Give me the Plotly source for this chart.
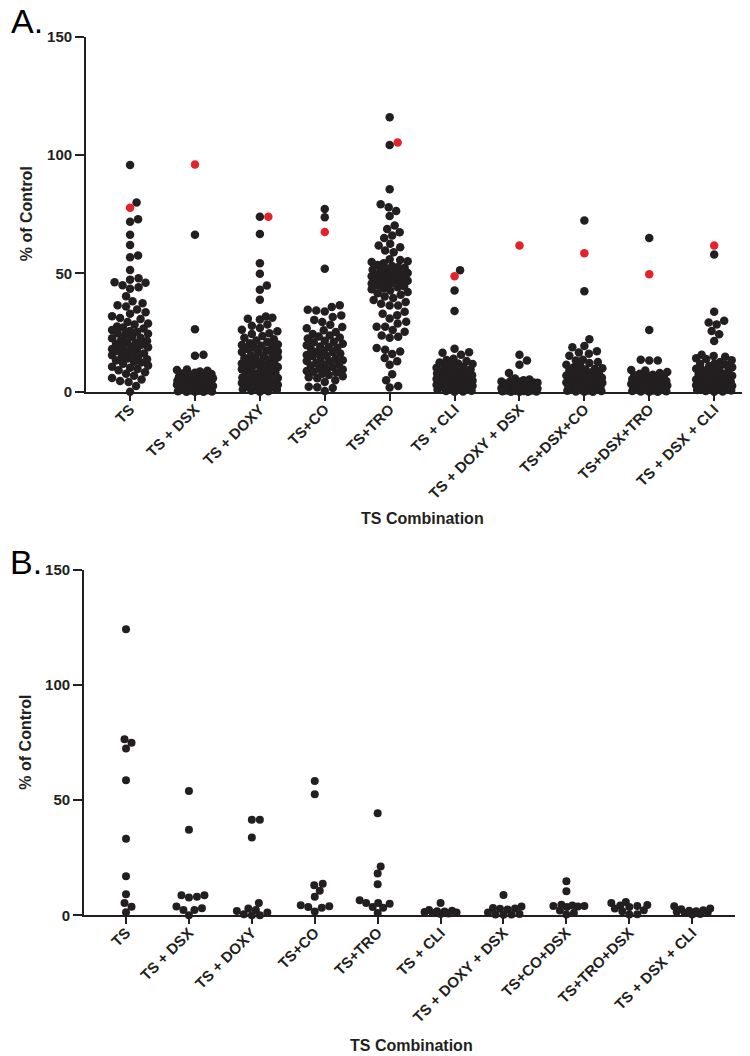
import plotly.graph_objects as go

# ---------------- data ----------------
CATS_A = ["TS", "TS + DSX", "TS + DOXY", "TS+CO", "TS+TRO", "TS + CLI",
          "TS + DOXY + DSX", "TS+DSX+CO", "TS+DSX+TRO", "TS + DSX + CLI"]
CATS_B = ["TS", "TS + DSX", "TS + DOXY", "TS+CO", "TS+TRO", "TS + CLI",
          "TS + DOXY + DSX", "TS+CO+DSX", "TS+TRO+DSX", "TS + DSX + CLI"]

# Panel A, black points per combination (% of control)
A_TS = [95.8, 80.0, 72.9, 71.8, 66.4, 62.0, 57.6, 56.8, 51.5, 48.0, 47.4, 46.3, 46.1, 45.0, 44.2,
        43.5, 40.4, 38.3, 37.4, 36.6, 36.0, 34.8, 33.6, 33.0, 31.9, 31.2, 30.8, 29.5, 28.9, 28.4,
        27.6, 27.2, 26.8, 26.1, 25.7, 25.4, 24.8, 24.5, 24.1, 23.3, 22.9, 22.6, 21.8, 21.5, 21.0,
        20.6, 20.3, 19.9, 19.4, 19.0, 18.8, 18.1, 17.7, 17.3, 16.9, 16.2, 15.9, 15.5, 15.0, 14.6,
        14.1, 13.8, 13.2, 12.7, 12.4, 11.9, 11.1, 10.6, 10.2, 9.7, 9.1, 8.3, 7.6, 6.8, 5.9, 5.2,
        4.6, 4.2, 2.5, 0.0]
A_TS_DSX = [66.4, 26.4, 15.7, 15.3, 9.4, 9.2, 8.9, 8.6, 8.1, 7.8, 7.5, 7.2, 7.0, 6.6, 6.3, 6.0,
            5.7, 5.5, 5.2, 4.9, 4.7, 4.4, 4.1, 3.9, 3.7, 3.4, 3.2, 2.9, 2.7, 2.5, 2.2, 2.0, 1.8,
            1.5, 1.3, 1.1, 0.9, 0.7, 0.5, 0.3, 0.1, 0.0, 0.0, 0.2, 0.6, 1.0, 1.6, 2.4, 3.0, 3.6,
            4.5, 5.4, 6.1, 7.3]
A_TS_DOXY = [74.0, 66.7, 54.3, 49.9, 44.9, 43.1, 38.9, 31.8, 31.3, 30.9, 30.6, 28.5, 27.9, 27.0,
             26.2, 25.6, 24.8, 24.4, 23.6, 22.9, 22.2, 21.7, 21.1, 20.5, 20.0, 19.5, 19.1, 18.6,
             18.1, 17.5, 17.0, 16.6, 16.1, 15.5, 15.0, 14.6, 14.1, 13.7, 13.2, 12.8, 12.3, 11.8,
             11.4, 10.9, 10.5, 10.0, 9.6, 9.1, 8.7, 8.2, 7.8, 7.3, 6.8, 6.4, 5.9, 5.5, 5.0, 4.6,
             4.1, 3.7, 3.2, 2.8, 2.3, 1.8, 1.4, 0.9, 0.5, 0.0, 0.3, 1.1, 2.0, 3.0, 4.4, 6.1, 8.0,
             10.2, 12.0, 14.3, 16.8, 19.8]
A_TS_CO = [77.2, 73.7, 52.0, 36.6, 35.8, 34.7, 34.4, 33.9, 32.3, 31.6, 30.4, 29.5, 28.3, 27.4,
           26.9, 26.0, 25.3, 24.4, 23.8, 23.0, 22.5, 21.6, 21.0, 20.3, 19.7, 19.2, 18.5, 17.9,
           17.3, 16.8, 16.2, 15.6, 15.1, 14.5, 13.9, 13.4, 12.8, 12.2, 11.7, 11.1, 10.5, 9.9,
           9.4, 8.8, 8.2, 7.6, 7.1, 6.6, 5.8, 4.9, 4.2, 2.2, 2.0, 1.6, 0.4, 13.0, 15.0, 17.0,
           19.0, 21.2, 23.4, 11.5, 9.6, 8.5, 6.2]
A_TS_TRO = [116.0, 104.3, 85.6, 79.2, 78.0, 76.4, 74.3, 70.3, 68.8, 67.4, 66.0, 65.0, 62.5, 61.8,
            61.1, 59.7, 59.0, 56.0, 55.7, 55.2, 54.8, 54.3, 53.6, 53.2, 52.7, 52.0, 51.6, 51.1,
            50.6, 50.2, 49.7, 49.3, 48.8, 48.4, 48.0, 47.7, 47.3, 46.9, 46.6, 46.2, 45.8, 45.5,
            45.1, 44.6, 44.2, 43.7, 43.3, 42.8, 42.2, 41.6, 41.0, 40.3, 39.6, 38.8, 38.0, 37.2,
            36.5, 36.5, 33.8, 33.0, 32.4, 31.0, 29.6, 28.9, 27.5, 27.5, 26.1, 25.4, 23.8, 23.3,
            22.9, 18.5, 17.8, 17.0, 16.0, 14.3, 12.9, 11.5, 7.4, 4.9, 2.5, 1.8, 47.0, 48.6, 50.9,
            52.4, 46.0, 49.0]
A_TS_CLI = [51.4, 42.8, 34.2, 18.2, 16.7, 16.5, 15.7, 14.0, 13.5, 13.0, 12.4, 12.0, 11.5, 11.1,
            10.6, 10.2, 9.8, 9.4, 9.0, 8.6, 8.2, 7.8, 7.5, 7.1, 6.8, 6.4, 6.1, 5.7, 5.4, 5.0, 4.7,
            4.4, 4.0, 3.7, 3.3, 3.0, 2.6, 2.3, 1.9, 1.6, 1.2, 0.9, 0.5, 0.2, 0.0, 1.0, 2.0, 3.5,
            5.2, 7.0, 9.2, 11.8, 0.4, 2.8]
A_TS_DOXY_DSX = [15.7, 13.2, 11.5, 8.0, 5.6, 5.2, 4.9, 4.6, 4.3, 4.0, 3.7, 3.5, 3.2, 3.0, 2.7,
                 2.5, 2.2, 2.0, 1.8, 1.6, 1.4, 1.2, 1.0, 0.8, 0.6, 0.4, 0.2, 0.0, 0.1, 0.3, 0.5,
                 0.7, 0.9, 1.1, 1.3, 1.5, 1.7, 2.1, 2.4, 2.9, 3.4, 3.9, 4.4, 0.0, 0.6, 1.2, 2.6]
A_TS_DSX_CO = [72.4, 42.5, 22.2, 19.4, 18.8, 17.2, 16.6, 16.1, 15.3, 13.6, 13.2, 12.2, 10.8, 10.4,
               10.0, 9.4, 8.9, 8.2, 7.8, 7.3, 6.9, 6.5, 6.0, 5.6, 5.1, 4.8, 4.4, 4.0, 3.6, 3.2,
               2.8, 2.4, 2.0, 1.6, 1.2, 0.8, 0.4, 0.0, 0.2, 0.6, 1.0, 1.4, 1.8, 2.2, 3.0, 3.8,
               4.6, 5.4, 6.3, 7.0, 8.6, 9.7, 11.4, 12.6, 0.1, 0.5]
A_TS_DSX_TRO = [65.0, 26.1, 13.6, 13.2, 13.2, 9.2, 9.0, 8.4, 7.7, 7.2, 6.8, 6.4, 6.0, 5.6, 5.2,
                4.8, 4.4, 4.0, 3.6, 3.3, 3.0, 2.7, 2.4, 2.1, 1.8, 1.5, 1.2, 0.9, 0.6, 0.3, 0.0,
                0.1, 0.4, 0.8, 1.1, 1.6, 2.0, 2.5, 3.1, 3.8, 4.6, 5.3, 6.2, 7.0, 8.0, 0.2, 1.3, 2.9]
A_TS_DSX_CLI = [58.0, 33.8, 30.0, 29.3, 28.5, 25.7, 24.3, 21.5, 15.7, 15.2, 14.8, 14.2, 13.9,
                13.4, 12.6, 12.0, 11.5, 10.9, 10.4, 9.8, 9.3, 8.8, 8.3, 7.8, 7.3, 6.8, 6.3, 5.9,
                5.4, 5.0, 4.5, 4.1, 3.7, 3.2, 2.8, 2.4, 2.0, 1.6, 1.2, 0.8, 0.4, 0.0, 0.2, 0.6,
                1.0, 1.4, 1.8, 2.6, 3.4, 4.3, 5.2, 6.0, 7.0, 8.5, 10.1, 11.9]
# Panel A, highlighted (red) point per combination
A_RED = [77.8, 96.0, 74.0, 67.5, 105.3, 48.8, 61.8, 58.5, 49.7, 61.8]

# Panel B points per combination
B_TS = [124.2, 76.5, 74.9, 72.5, 58.7, 33.3, 17.0, 9.1, 5.3, 3.7, 1.3]
B_TS_DSX = [54.0, 37.2, 8.7, 8.7, 8.1, 7.7, 3.8, 3.1, 2.3, 2.3, 0.0]
B_TS_DOXY = [41.5, 41.5, 33.8, 5.3, 3.0, 2.3, 1.9, 1.2, 0.5, 0.0, 0.0]
B_TS_CO = [58.3, 52.6, 13.7, 13.0, 10.7, 8.1, 4.4, 3.9, 3.6, 3.3, 1.7]
B_TS_TRO = [44.3, 21.2, 18.2, 13.5, 6.5, 5.3, 5.3, 5.0, 3.6, 3.3, 1.0]
B_TS_CLI = [5.3, 2.3, 2.0, 1.8, 1.6, 1.4, 1.2, 1.0, 0.8, 0.6]
B_TS_DOXY_DSX = [8.8, 3.8, 3.2, 3.0, 2.8, 2.5, 1.2, 0.6, 0.4, 0.3, 0.2]
B_TS_CO_DSX = [14.8, 10.4, 4.6, 4.3, 4.0, 4.0, 3.8, 3.6, 2.1, 1.0, 0.3]
B_TS_TRO_DSX = [5.8, 5.3, 4.5, 4.3, 4.0, 3.6, 3.0, 2.2, 1.8, 0.5, 0.3]
B_TS_DSX_CLI = [3.9, 3.0, 2.6, 2.2, 2.0, 1.8, 1.5, 1.2, 1.0, 0.6, 0.4]

A_GROUPS = [A_TS, A_TS_DSX, A_TS_DOXY, A_TS_CO, A_TS_TRO, A_TS_CLI,
            A_TS_DOXY_DSX, A_TS_DSX_CO, A_TS_DSX_TRO, A_TS_DSX_CLI]
B_GROUPS = [B_TS, B_TS_DSX, B_TS_DOXY, B_TS_CO, B_TS_TRO, B_TS_CLI,
            B_TS_DOXY_DSX, B_TS_CO_DSX, B_TS_TRO_DSX, B_TS_DSX_CLI]

# ---------------- layout constants ----------------
W, H = 750, 1056
FONT = "Arial, Liberation Sans, sans-serif"
BLACK = "#231f20"
RED = "#e3232b"

# panel A geometry (pixels)
A_X0, A_X1, A_Y0, A_Y1 = 78, 749, 381, 20
A_RANGE = [-0.679, 9.66]
# panel B geometry
B_X0, B_X1, B_Y0, B_Y1 = 76, 727, 913, 562
B_RANGE = [-0.668, 9.68]
YMAX = 150.0


def swarm(values, px_per_unit, px_per_cat, diam, max_off):
    """Beeswarm-style horizontal offsets (in category units) for one column."""
    order = sorted(range(len(values)), key=lambda i: values[i])
    step = 0.5
    cands = [0.0]
    for k in range(1, int(max_off / step) + 1):
        cands += [k * step, -k * step]
    placed = []
    offs = [0.0] * len(values)
    for i in order:
        y = values[i] * px_per_unit
        near = [(px, py) for px, py in placed if abs(py - y) < diam]
        chosen = None
        for c in cands:
            if all((c - px) ** 2 + (y - py) ** 2 >= diam * diam for px, py in near):
                chosen = c
                break
        if chosen is None:
            chosen = max(cands, key=lambda c: min((c - px) ** 2 + (y - py) ** 2 for px, py in near))
        placed.append((chosen, y))
        offs[i] = chosen / px_per_cat
    return offs


def build(groups, reds, x0, x1, y0, y1, rng, diam, max_off):
    ppu = (y0 - y1) / YMAX
    ppc = (x1 - x0) / (rng[1] - rng[0])
    bx, by, rx, ry = [], [], [], []
    for ci, vals in enumerate(groups):
        allv = list(vals)
        red_idx = None
        if reds is not None:
            allv.append(reds[ci])
            red_idx = len(allv) - 1
        offs = swarm(allv, ppu, ppc, diam, max_off)
        for j, v in enumerate(allv):
            if j == red_idx:
                rx.append(ci + offs[j]); ry.append(v)
            else:
                bx.append(ci + offs[j]); by.append(v)
    return bx, by, rx, ry


fig = go.Figure()

abx, aby, arx, ary = build(A_GROUPS, A_RED, A_X0, A_X1, A_Y0, A_Y1, A_RANGE, 8.2, 18)
bbx, bby, _, _ = build(B_GROUPS, None, B_X0, B_X1, B_Y0, B_Y1, B_RANGE, 7.6, 18)

fig.add_trace(go.Scatter(x=abx, y=aby, mode="markers", xaxis="x", yaxis="y", cliponaxis=False,
                         marker=dict(size=8.5, color=BLACK, line=dict(width=0)), showlegend=False))
fig.add_trace(go.Scatter(x=arx, y=ary, mode="markers", xaxis="x", yaxis="y", cliponaxis=False,
                         marker=dict(size=8.5, color=RED, line=dict(width=0)), showlegend=False))
fig.add_trace(go.Scatter(x=bbx, y=bby, mode="markers", xaxis="x2", yaxis="y2", cliponaxis=False,
                         marker=dict(size=8, color=BLACK, line=dict(width=0)), showlegend=False))


def xdom(a, b):
    return [a / W, b / W]


def ydom(bottom, top):
    return [1 - bottom / H, 1 - top / H]


axis_common = dict(showgrid=False, zeroline=False, showline=True, linecolor=BLACK, linewidth=1.8,
                   ticks="outside", tickcolor=BLACK, tickwidth=1.8, layer="below traces")
TICKFONT = dict(size=15, family=FONT, color=BLACK, weight="bold")

fig.update_layout(
    width=W, height=H, margin=dict(l=0, r=0, t=0, b=0),
    paper_bgcolor="white", plot_bgcolor="white",
    font=dict(family=FONT, color=BLACK),
    # panel letter "A." as the figure title (top-left corner)
    title=dict(text="A.", x=0, xref="container", xanchor="left", y=1, yref="container",
               yanchor="top", pad=dict(t=1, l=3), font=dict(size=34, family=FONT, color="black")),
    xaxis=dict(domain=xdom(A_X0, A_X1), range=A_RANGE, anchor="y",
               tickmode="array", tickvals=list(range(len(CATS_A))), ticktext=CATS_A,
               tickangle=-45, ticklen=7, tickfont=TICKFONT, ticklabelstandoff=-6, **axis_common),
    yaxis=dict(domain=ydom(A_Y0, A_Y1), range=[0, YMAX], anchor="x",
               tickmode="array", tickvals=[0, 50, 100, 150], ticklen=9,
               tickfont=TICKFONT, **axis_common),
    xaxis2=dict(domain=xdom(B_X0, B_X1), range=B_RANGE, anchor="y2",
                tickmode="array", tickvals=list(range(len(CATS_B))), ticktext=CATS_B,
                tickangle=-45, ticklen=7, tickfont=TICKFONT, ticklabelstandoff=-6, **axis_common),
    yaxis2=dict(domain=ydom(B_Y0, B_Y1), range=[0, YMAX], anchor="x2",
                tickmode="array", tickvals=[0, 50, 100, 150], ticklen=9,
                tickfont=TICKFONT, **axis_common),
)

ann = []
ann.append(dict(text="B.", x=0, y=1 - 554 / H, xref="paper", yref="paper", xanchor="left",
                yanchor="middle", showarrow=False, font=dict(size=34, family=FONT, color="black")))
# axis titles
for ycen, xt_y, xt_x in [((A_Y0 + A_Y1) / 2, 510, 414), ((B_Y0 + B_Y1) / 2, 1045, 404)]:
    ann.append(dict(text="<b>% of Control</b>", x=18 / W, y=1 - ycen / H, xref="paper", yref="paper",
                    textangle=-90, showarrow=False, xanchor="center", yanchor="middle",
                    font=dict(size=16, family=FONT, color=BLACK)))
    ann.append(dict(text="<b>TS Combination</b>", x=xt_x / W, y=1 - xt_y / H, xref="paper",
                    yref="paper", showarrow=False, xanchor="center", yanchor="middle",
                    font=dict(size=16, family=FONT, color=BLACK)))
fig.update_layout(annotations=ann)

fig.write_html("out.html")
